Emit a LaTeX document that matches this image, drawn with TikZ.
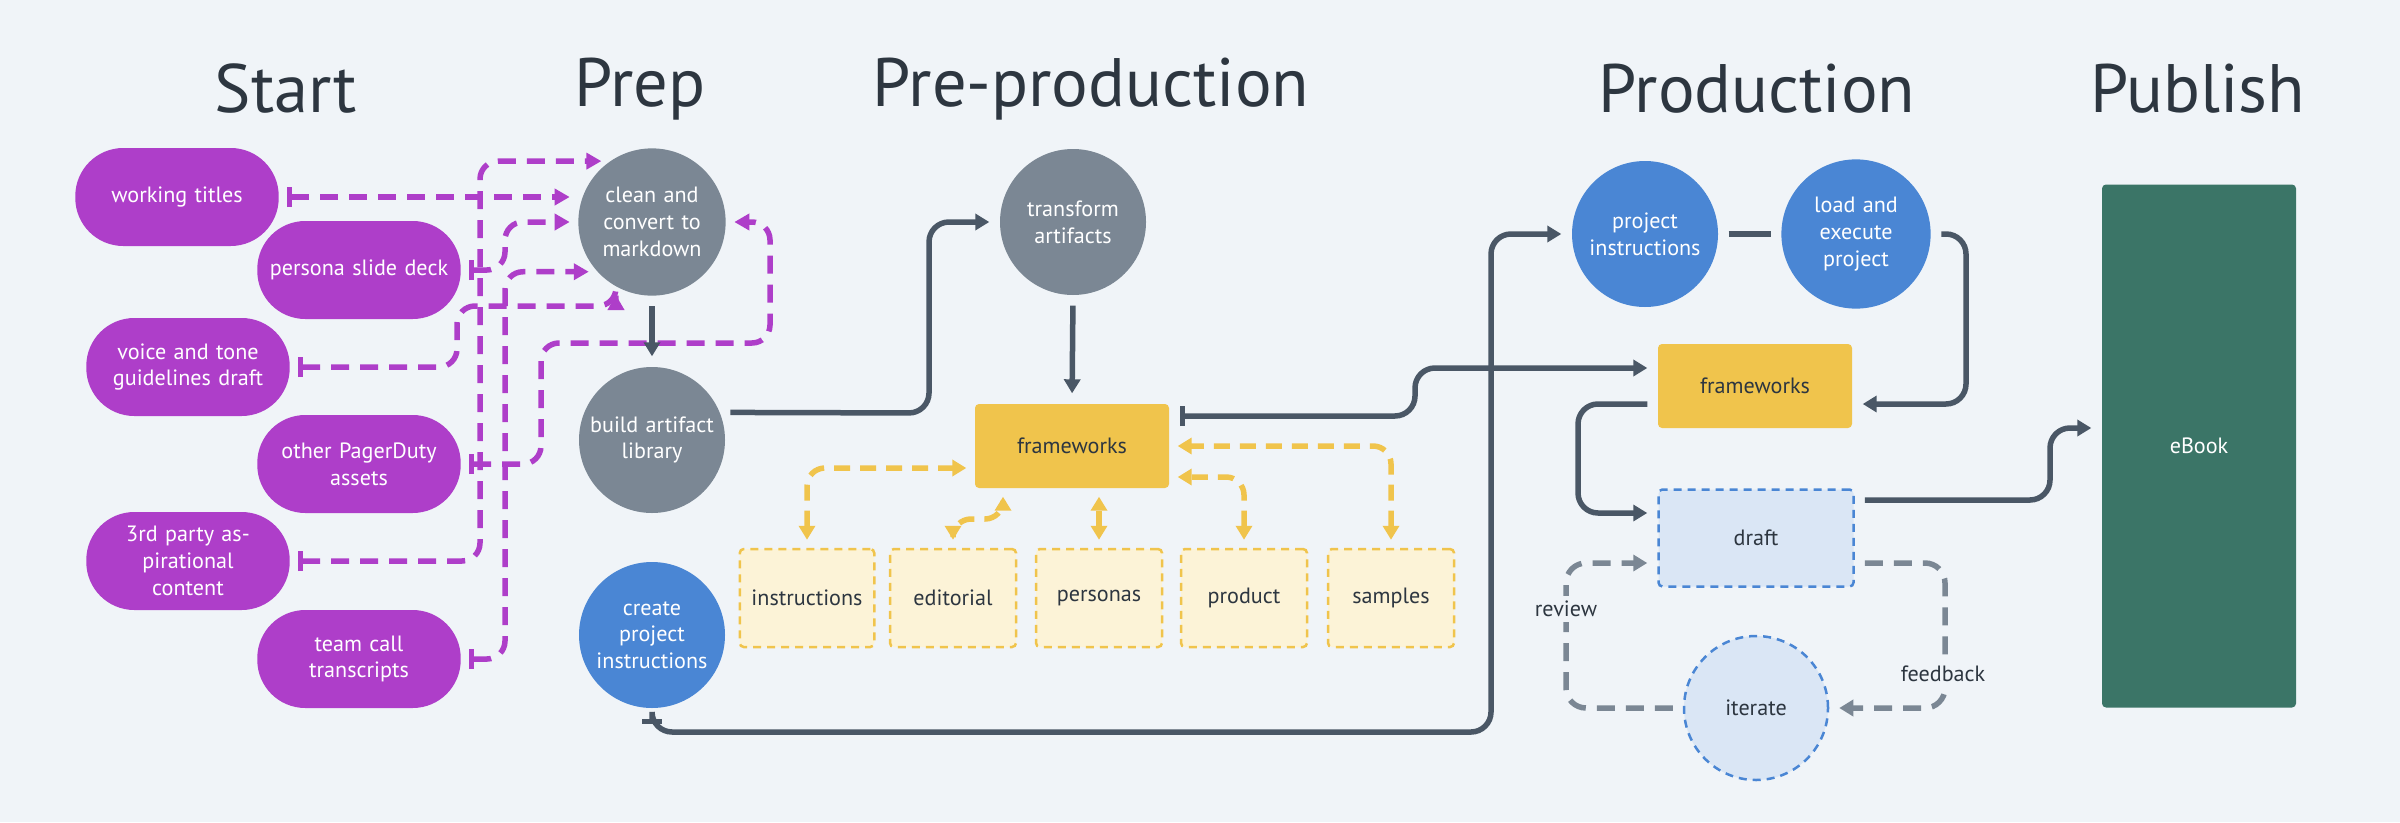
\documentclass[tikz,border=0pt]{standalone}
\usepackage{fontspec}
\setmainfont{PT Sans}
\usetikzlibrary{arrows.meta,calc}
\definecolor{bg}{HTML}{F0F4F8}
\definecolor{purp}{HTML}{AE3EC9}
\definecolor{gnode}{HTML}{7B8794}
\definecolor{bnode}{HTML}{4A86D4}
\definecolor{ynode}{HTML}{F0C44C}
\definecolor{ylight}{HTML}{FCF3D7}
\definecolor{dlight}{HTML}{DAE6F5}
\definecolor{ebook}{HTML}{3B7567}
\definecolor{dline}{HTML}{4A5766}
\definecolor{ttl}{HTML}{2D3640}
\tikzset{
  x=0.1mm,y=-0.1mm,
  every node/.style={font=\fontsize{6.3}{7.6}\selectfont, align=center},
  ttlstyle/.style={font=\fontsize{19.5}{22}\selectfont, text=ttl},
  pill/.style={fill=purp, text=white, rounded corners=4.8mm, minimum width=19.5mm, minimum height=9.8mm, text width=18mm},
  gcirc/.style={circle, fill=gnode, text=white, minimum size=14.6mm, inner sep=0pt, text width=13mm},
  bcirc/.style={circle, fill=bnode, text=white, minimum size=14.6mm, inner sep=0pt, text width=13mm},
  ybox/.style={fill=ynode, text=ttl, rounded corners=0.4mm, minimum width=19.4mm, minimum height=8.4mm},
  lbox/.style={fill=ylight, draw=ynode, dashed, dash pattern=on 0.8mm off 0.6mm, line width=0.25mm, text=ttl, rounded corners=0.4mm, minimum width=12.6mm, minimum height=9.8mm},
  pa/.style={draw=purp, line width=0.55mm, dash pattern=on 1.8mm off 1.1mm, rounded corners=1.8mm, {Bar[width=2mm,line width=0.5mm]}-{Triangle[length=1.5mm,width=1.6mm]}, shorten <=0.8mm, shorten >=0.8mm},
  gl/.style={draw=dline, line width=0.55mm, rounded corners=2mm, -{Triangle[length=1.4mm,width=1.6mm]}, shorten <=1mm, shorten >=1mm},
  gd/.style={draw=gnode, line width=0.55mm, dash pattern=on 1.8mm off 1.1mm, rounded corners=2mm, -{Triangle[length=1.4mm,width=1.6mm]}, shorten <=1mm, shorten >=1mm},
  yd/.style={draw=ynode, line width=0.55mm, dash pattern=on 1.6mm off 1mm, rounded corners=1.8mm, {Triangle[length=1.4mm,width=1.6mm]}-{Triangle[length=1.4mm,width=1.6mm]}, shorten <=0.8mm, shorten >=0.8mm},
}
\begin{document}
\begin{tikzpicture}
\useasboundingbox[fill=bg] (0,0) rectangle (2400,822);
% titles
\node[ttlstyle] (tS) at (286,89) {Start};
\node[ttlstyle] (tP) at (640,89) {Prep};
\node[ttlstyle] (tPP) at (1091,89) {Pre-production};
\node[ttlstyle] (tPr) at (1757,89) {Production};
\node[ttlstyle] (tPu) at (2198,89) {Publish};
% start pills
\node[pill] (wt) at (177,197) {working titles};
\node[pill] (ps) at (359,270) {persona slide deck};
\node[pill] (vt) at (188,367) {voice and tone\\guidelines draft};
\node[pill] (op) at (359,464) {other PagerDuty\\assets};
\node[pill] (tp) at (188,561) {3rd party aspirational\\content};
\node[pill] (tc) at (359,659) {team call transcripts};
% prep
\node[gcirc] (cl) at (652,222) {clean and\\convert to\\markdown};
\node[gcirc] (bu) at (652,440) {build artifact\\library};
\node[bcirc] (cr) at (652,635) {create project\\instructions};
% pre-production
\node[gcirc] (tr) at (1073,222) {transform\\artifacts};
\node[ybox] (fp) at (1072,446) {frameworks};
\node[lbox] (ins) at (807,598) {instructions};
\node[lbox] (ed) at (953,598) {editorial};
\node[lbox] (pe) at (1099,598) {personas};
\node[lbox] (pr) at (1244,598) {product};
\node[lbox] (sa) at (1391,598) {samples};
% production
\node[bcirc] (pi) at (1645,234) {project\\instructions};
\node[bcirc] (le) at (1856,234) {load and\\execute project};
\node[ybox] (fq) at (1755,386) {frameworks};
\node[fill=dlight, draw=bnode, dash pattern=on 0.8mm off 0.6mm, line width=0.25mm, text=ttl, rounded corners=0.4mm, minimum width=19.5mm, minimum height=9.7mm] (dr) at (1756,538) {draft};
\node[circle, fill=dlight, draw=bnode, dash pattern=on 0.8mm off 0.6mm, line width=0.25mm, text=ttl, minimum size=14.4mm, inner sep=0pt] (it) at (1756,708) {iterate};
% publish
\node[fill=ebook, text=white, rounded corners=0.4mm, minimum width=19.4mm, minimum height=52.3mm] (eb) at (2199,446) {eBook};
% purple connectors
\draw[pa] (wt.east) -- (cl.west |- wt.east);
\draw[pa] (tp.east) -- (480,561) |- (cl.125);
\draw[pa] (ps.east) -- (505,270) |- (cl.west);
\draw[pa] (tc.east) -- (505,659) |- (cl.222);
\draw[pa] (vt.east) -| (457,306) -| (cl.241);
\draw[pa] (op.east) -| (541,343) -| (770,222) -- (cl.east);
% grey connectors
\draw[gl] (cl.south) -- (bu.north);
\draw[gl] (bu.22) -- (929,413) |- (tr.west);
\draw[gl] (tr.south) -- (fp.north);
\draw[gl,{Bar[width=2mm,line width=0.5mm]}-{Triangle[length=1.4mm,width=1.6mm]}] (cr.south) |- (1491,732) |- (pi.west);
\draw[gl,{Bar[width=2mm,line width=0.5mm]}-{Triangle[length=1.4mm,width=1.6mm]}] ($(fp.east)+(0,-30)$) -- (1415,416) |- ($(fq.west)+(0,-18)$);
\draw[gl,-] (pi.east) -- (le.west);
\draw[gl] (le.east) -- (1966,234) |- ($(fq.east)+(0,18)$);
\draw[gl] ($(fq.west)+(0,18)$) -- (1578,404) |- ($(dr.west)+(0,-25)$);
\draw[gl] ($(dr.east)+(0,-38)$) -- (2050,500) |- ($(eb.west)+(0,-18)$);
% feedback loop
\draw[gd] ($(dr.east)+(0,25)$) -- (1945,563) |- (it.east);
\draw[gd] (it.west) -- (1566,708) |- ($(dr.west)+(0,25)$);
\node[fill=bg, text=ttl, inner sep=0.5mm] (fb) at (1943,674) {feedback};
\node[fill=bg, text=ttl, inner sep=0.5mm] (rv) at (1566,609) {review};
% yellow connectors
\draw[yd] (ins.north) |- ($(fp.west)+(0,22)$);
\draw[yd] (ed.north) |- (1003,519) -- ($(fp.south)+(-69,0)$);
\draw[yd] (pe.north) -- (pe.north |- fp.south);
\draw[yd] (pr.north) |- ($(fp.east)+(0,31)$);
\draw[yd] (sa.north) |- (fp.east);
\end{tikzpicture}
\end{document}
